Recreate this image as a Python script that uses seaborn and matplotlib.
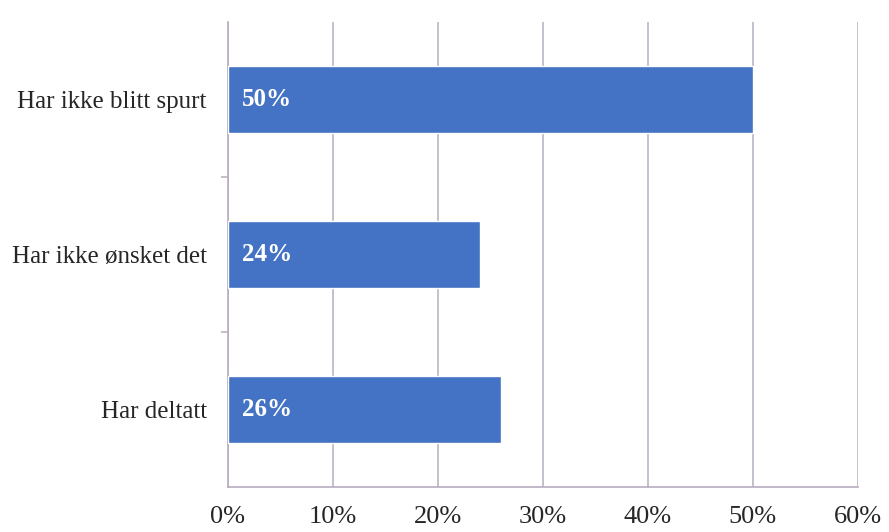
import matplotlib.pyplot as plt
import pandas as pd
import seaborn as sns
from matplotlib.ticker import FixedLocator

# data
categories = ["Har ikke blitt spurt", "Har ikke ønsket det", "Har deltatt"]
values = [50, 24, 26]
x_ticks = [0, 10, 20, 30, 40, 50, 60]

df = pd.DataFrame({"category": categories, "value": values})

sns.set_theme(style="white")
plt.rcParams['font.family'] = ['Liberation Serif', 'DejaVu Serif']

line_col = "#b8adbf"
bar_col = "#4472c4"

fig = plt.figure(figsize=(8.89, 5.32), dpi=100)
ax = fig.add_axes([0.256, 0.085, 0.709, 0.874])

sns.barplot(data=df, x="value", y="category", orient="h", color=bar_col,
            saturation=1, width=0.43, ax=ax, zorder=3)

for patch, v in zip(ax.patches, values):
    y = patch.get_y() + patch.get_height() / 2
    ax.text(1.4, y, f"{v}%", color="white", fontweight="bold",
            fontsize=18, va="center", ha="left", zorder=4)

ax.set_xlim(0, 60)
ax.set_ylim(2.5, -0.5)
ax.set_xticks(x_ticks)
ax.set_xticklabels([f"{t}%" for t in x_ticks], fontsize=19)
ax.xaxis.grid(True, color=line_col, linewidth=1.1, zorder=0)
ax.yaxis.grid(False)

ax.set_xlabel("")
ax.set_ylabel("")
ax.tick_params(axis="y", length=0, labelsize=18, pad=15)
ax.tick_params(axis="x", length=6, color=line_col, width=1.1, pad=8)
ax.yaxis.set_minor_locator(FixedLocator([0.5, 1.5]))
ax.tick_params(axis="y", which="minor", length=5, color=line_col, width=1.1, left=True)

for s in ["top", "right"]:
    ax.spines[s].set_visible(False)
for s in ["left", "bottom"]:
    ax.spines[s].set_color(line_col)
    ax.spines[s].set_linewidth(1.2)

fig.savefig("out.png", dpi=100)
